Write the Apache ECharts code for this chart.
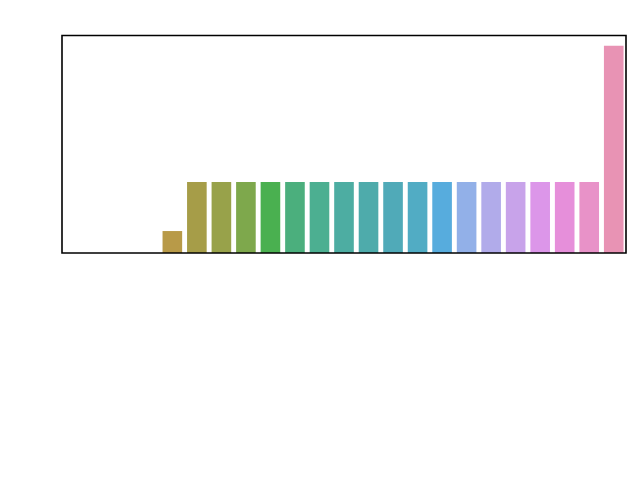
<!DOCTYPE html>
<html>
<head>
<meta charset="utf-8">
<script src="https://cdn.jsdelivr.net/npm/echarts@6/dist/echarts.min.js"></script>
<style>html,body{margin:0;padding:0;background:#fff;}#chart{width:640px;height:480px;}</style>
</head>
<body>
<div id="chart"></div>
<script>
var categories = ['c1','c2','c3','c4','c5','c6','c7','c8','c9','c10','c11','c12','c13','c14','c15','c16','c17','c18','c19','c20','c21','c22','c23'];
var values = [0,0,0,0,10.6,34.3,34.3,34.3,34.3,34.3,34.3,34.3,34.3,34.3,34.3,34.3,34.3,34.3,34.3,34.3,34.3,34.3,100];
var colors = ['#e8929a','#e8958a','#d89a70','#c89a55','#b89a48','#a69d48','#98a24a','#7ea84c','#4ab050','#4baf7d','#4caf91','#4dada2','#4eabab','#50aab8','#51acc4','#57acdd','#92b0e8','#b1abea','#c8a3ea','#dc96e9','#e68fda','#e892c8','#e893b4'];
var yMax = 105;

var chart = echarts.init(document.getElementById('chart'), null, {renderer: 'canvas'});
chart.setOption({
  animation: false,
  backgroundColor: '#ffffff',
  grid: {left: 62, right: 14, top: 35.5, bottom: 227, show: true, borderColor: '#000', borderWidth: 1.6, containLabel: false, z: 5},
  xAxis: {
    type: 'category', data: categories,
    axisLine: {show: false}, axisTick: {show: false}, axisLabel: {show: false}, splitLine: {show: false}
  },
  yAxis: {
    type: 'value', min: 0, max: yMax,
    axisLine: {show: false}, axisTick: {show: false}, axisLabel: {show: false}, splitLine: {show: false}
  },
  series: [{
    type: 'bar',
    barCategoryGap: '20%',
    data: values.map(function(v, i){ return {value: v, itemStyle: {color: colors[i]}}; })
  }]
});
</script>
</body>
</html>
